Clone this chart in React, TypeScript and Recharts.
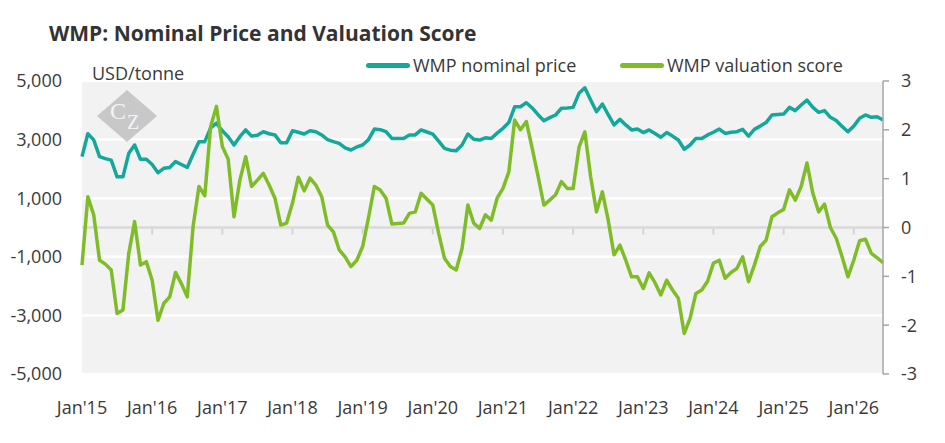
import React from "react";
import {
  LineChart,
  Line,
  XAxis,
  YAxis,
  CartesianGrid,
  ReferenceLine,
} from "recharts";

// ---------- data ----------
const MONTH_NAMES = ["Jan", "Feb", "Mar", "Apr", "May", "Jun", "Jul", "Aug", "Sep", "Oct", "Nov", "Dec"];
const START_YEAR = 2015;

const NOMINAL_PRICE = [
  2420, 3200, 2990, 2420, 2350, 2300, 1730, 1730, 2530, 2815, 2330, 2330,
  2150, 1870, 2020, 2050, 2250, 2150, 2050, 2500, 2930, 2930, 3400, 3560,
  3300, 3100, 2815, 3100, 3330, 3120, 3150, 3270, 3200, 3160, 2890, 2890,
  3300, 3250, 3190, 3300, 3270, 3160, 3000, 2930, 2870, 2720, 2645, 2750,
  2815, 3000, 3360, 3340, 3270, 3040, 3040, 3040, 3160, 3160, 3330, 3260,
  3190, 2950, 2700, 2640, 2620, 2815, 3190, 3010, 2985, 3060, 3040, 3220,
  3385, 3580, 4120, 4120, 4260, 4080, 3850, 3645, 3750, 3840, 4070, 4080,
  4100, 4580, 4770, 4350, 3950, 4215, 3850, 3500, 3690, 3500, 3330, 3360,
  3240, 3330, 3210, 3080, 3240, 3120, 2985, 2670, 2815, 3040, 3040, 3160,
  3250, 3360, 3210, 3250, 3270, 3350, 3120, 3350, 3460, 3580, 3840, 3860,
  3870, 4100, 3990, 4180, 4350, 4100, 3930, 3990, 3760, 3650, 3450, 3270,
  3460, 3730, 3840, 3760, 3780, 3670,
];

const VALUATION_SCORE = [
  -0.77, 0.63, 0.26, -0.67, -0.75, -0.87, -1.76, -1.69, -0.53, 0.12, -0.77, -0.7,
  -1.08, -1.9, -1.55, -1.42, -0.92, -1.15, -1.42, 0.02, 0.84, 0.65, 2.07, 2.48,
  1.66, 1.4, 0.22, 0.97, 1.45, 0.84, 0.97, 1.11, 0.87, 0.6, 0.05, 0.09,
  0.5, 1.03, 0.75, 1.01, 0.87, 0.63, 0.05, -0.09, -0.46, -0.6, -0.8, -0.67,
  -0.39, 0.2, 0.84, 0.77, 0.6, 0.07, 0.08, 0.09, 0.29, 0.32, 0.7, 0.58,
  0.46, -0.12, -0.63, -0.8, -0.87, -0.43, 0.46, 0.09, -0.02, 0.26, 0.15, 0.6,
  0.8, 1.14, 2.2, 2.0, 2.17, 1.62, 1.05, 0.46, 0.56, 0.67, 0.94, 0.8,
  0.8, 1.64, 1.96, 1.04, 0.32, 0.73, 0.15, -0.56, -0.36, -0.67, -1.01, -1.01,
  -1.25, -0.93, -1.13, -1.38, -1.08, -1.28, -1.45, -2.17, -1.86, -1.35, -1.28, -1.1,
  -0.73, -0.67, -1.04, -0.92, -0.84, -0.6, -1.11, -0.77, -0.39, -0.26, 0.22, 0.3,
  0.37, 0.77, 0.56, 0.84, 1.32, 0.7, 0.32, 0.48, 0.0, -0.22, -0.6, -1.01,
  -0.67, -0.27, -0.24, -0.53, -0.62, -0.72,
];

const X_TICKS = ["Jan'15", "Jan'16", "Jan'17", "Jan'18", "Jan'19", "Jan'20", "Jan'21", "Jan'22", "Jan'23", "Jan'24", "Jan'25", "Jan'26"];
const LEFT_TICKS = [-5000, -3000, -1000, 1000, 3000, 5000];
const RIGHT_TICKS = [-3, -2, -1, 0, 1, 2, 3];

const MONTHS = NOMINAL_PRICE.map((_, i) => {
  const m = MONTH_NAMES[i % 12];
  const y = String((START_YEAR + Math.floor(i / 12)) % 100).padStart(2, "0");
  return `${m}'${y}`;
});

const DATA = MONTHS.map((month, i) => ({
  month,
  price: NOMINAL_PRICE[i],
  score: VALUATION_SCORE[i],
}));

// ---------- layout / style ----------
const W = 945;
const H = 443;
const PLOT_LEFT = 82;
const PLOT_RIGHT = 883;
const PLOT_TOP = 81;
const PLOT_BOTTOM = 374;
const ZERO_Y = (PLOT_TOP + PLOT_BOTTOM) / 2;
const LEFT_AXIS_W = 60;
const RIGHT_AXIS_W = 50;
const X_AXIS_H = 30;

const FONT = "'Open Sans', 'Noto Sans', sans-serif";
const TEXT = "#3a3a3a";
const TEAL = "#14a89b";
const GREEN = "#7fbd28";

const fmtThousands = (v: number) => v.toLocaleString("en-US");

const XTick = (props: any) => {
  const { x, payload } = props;
  return (
    <g>
      {payload.value !== X_TICKS[0] && (
        <line x1={x} x2={x} y1={ZERO_Y + 1} y2={ZERO_Y + 7} stroke="#d4d4d4" strokeWidth={2} />
      )}
      <text
        x={x}
        y={PLOT_BOTTOM + 40}
        textAnchor="middle"
        fill={TEXT}
        fontSize={18}
        fontFamily={FONT}
      >
        {payload.value}
      </text>
    </g>
  );
};

const LegendItem = ({ color, label, left }: { color: string; label: string; left: number }) => (
  <div style={{ position: "absolute", left, top: 53, display: "flex", alignItems: "center", height: 24 }}>
    <div style={{ width: 44, height: 5, borderRadius: 3, background: color, marginRight: 3 }} />
    <span style={{ fontSize: 18, color: TEXT, fontFamily: FONT, whiteSpace: "nowrap" }}>{label}</span>
  </div>
);

export default function App() {
  return (
    <div style={{ position: "absolute", left: 0, top: 0, width: W, height: H, background: "#fff", fontFamily: FONT }}>
      <div
        style={{
          position: "absolute",
          left: 49,
          top: 19,
          fontSize: 21,
          fontWeight: 700,
          color: "#333",
          whiteSpace: "nowrap",
        }}
      >
        WMP: Nominal Price and Valuation Score
      </div>
      <LineChart
        width={W}
        height={H}
        data={DATA}
        margin={{
          top: PLOT_TOP,
          left: PLOT_LEFT - LEFT_AXIS_W,
          right: W - PLOT_RIGHT - RIGHT_AXIS_W,
          bottom: H - PLOT_BOTTOM - X_AXIS_H,
        }}
        style={{ position: "absolute", left: 0, top: 0 }}
      >
        <CartesianGrid
          vertical={false}
          horizontal={true}
          fill="#f2f2f2"
          stroke="#ffffff"
          strokeWidth={2.5}
          yAxisId="left"
        />
        <XAxis
          dataKey="month"
          ticks={X_TICKS}
          interval={0}
          axisLine={false}
          tickLine={false}
          height={X_AXIS_H}
          tick={<XTick />}
        />
        <YAxis
          yAxisId="left"
          orientation="left"
          domain={[-5000, 5000]}
          ticks={LEFT_TICKS}
          tickFormatter={fmtThousands}
          axisLine={false}
          tickLine={false}
          tickSize={0}
          tickMargin={20}
          width={LEFT_AXIS_W}
          tick={{ fill: TEXT, fontSize: 18, fontFamily: FONT }}
          allowDataOverflow
        />
        <YAxis
          yAxisId="right"
          orientation="right"
          domain={[-3, 3]}
          ticks={RIGHT_TICKS}
          axisLine={{ stroke: "#a6a6a6", strokeWidth: 1.5 }}
          tickLine={{ stroke: "#a6a6a6", strokeWidth: 1.5 }}
          tickSize={6}
          tickMargin={12}
          width={RIGHT_AXIS_W}
          tick={{ fill: TEXT, fontSize: 18, fontFamily: FONT, textAnchor: "start" }}
          allowDataOverflow
        />
        <ReferenceLine yAxisId="left" y={0} stroke="#d9d9d9" strokeWidth={2.5} />
        <Line
          yAxisId="left"
          type="linear"
          dataKey="price"
          stroke={TEAL}
          strokeWidth={3.5}
          dot={false}
          activeDot={false}
          isAnimationActive={false}
          strokeLinejoin="round"
        />
        <Line
          yAxisId="right"
          type="linear"
          dataKey="score"
          stroke={GREEN}
          strokeWidth={3.5}
          dot={false}
          activeDot={false}
          isAnimationActive={false}
          strokeLinejoin="round"
        />
      </LineChart>
      <div
        style={{
          position: "absolute",
          left: 92,
          top: 61,
          fontSize: 18,
          color: TEXT,
          whiteSpace: "nowrap",
          lineHeight: "24px",
        }}
      >
        USD/tonne
      </div>
      <LegendItem color={TEAL} label="WMP nominal price" left={366} />
      <LegendItem color={GREEN} label="WMP valuation score" left={620} />
      <svg
        width={64}
        height={56}
        style={{ position: "absolute", left: 95, top: 88, pointerEvents: "none" }}
      >
        <polygon points="32,2 62,28 32,54 2,28" fill="#c8c8c8" />
        <text x={15} y={31} fontSize={24} fontFamily="'Liberation Serif', serif" fill="#f4f4f4">
          C
        </text>
        <text x={32} y={41} fontSize={20} fontFamily="'Liberation Serif', serif" fill="#f4f4f4">
          Z
        </text>
      </svg>
    </div>
  );
}
